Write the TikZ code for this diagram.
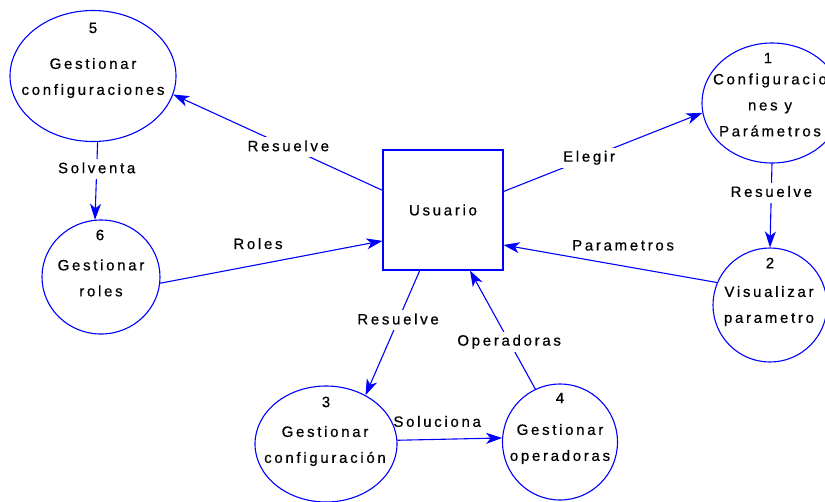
\documentclass[tikz,border=0pt]{standalone}
\usepackage{fontspec}
\setmainfont{Liberation Sans}[LetterSpace=18,FakeBold=0.6]
\usetikzlibrary{shapes.geometric,arrows.meta}

\begin{document}
\begin{tikzpicture}
	[x=1pt,y=-1pt,every node/.style={font=\fontsize{15}{26}\selectfont, text=black, align=center, inner sep=1pt}]
	\tikzstyle{proc} = [ellipse, draw=blue, line width=1.1pt, inner sep=0pt];
	\tikzstyle{flow} = [blue, line width=1.1pt, -{Stealth[length=16pt,width=11pt,inset=4.5pt]}];
	\tikzstyle{cut} = [fill=white, inner sep=3pt, text height=11pt, text depth=3pt];
	\tikzstyle{over} = [text height=11pt, text depth=3pt];
	
	\useasboundingbox (0,0) rectangle (825,501);
	\clip (0,0) rectangle (825,501);
	
	\node[draw=blue, line width=1.1pt, minimum size=120pt] (usr) at (443,210) {Usuario};
	
	\node[proc, minimum width=166pt, minimum height=131pt] (p5) at (93,76) {};
	\node (n5) at (93,28) {5};
	\node (t5) at (93,78) {Gestionar\\configuraciones};
	
	\node[proc, minimum width=140pt, minimum height=120pt] (p1) at (772,103) {};
	\node (n1) at (768,58) {1};
	\node (t1) at (770,105) {Configuracio\\nes y\\Parámetros};
	
	\node[proc, minimum width=114pt, minimum height=114pt] (p2) at (770,305) {};
	\node (n2) at (770,263) {2};
	\node (t2) at (769,306) {Visualizar\\parametro};
	
	\node[proc, minimum width=118pt, minimum height=114pt] (p6) at (101,277) {};
	\node (n6) at (100,235) {6};
	\node (t6) at (101,278) {Gestionar\\roles};
	
	\node[proc, minimum width=142pt, minimum height=116pt] (p3) at (326,444) {};
	\node (n3) at (326,402) {3};
	\node (t3) at (325,446) {Gestionar\\configuración};
	
	\node[proc, minimum width=115pt, minimum height=116pt] (p4) at (560,442) {};
	\node (n4) at (560,398) {4};
	\node (t4) at (560,444) {Gestionar\\operadoras};
	
	\draw[flow] (usr.162) -- node[cut, pos=0.45] (l1) {Resuelve} (p5.-13);
	\draw[flow] (p5.-86) -- node[cut, pos=0.35] (l2) {Solventa} (p6.96);
	\draw[flow] (p6.-6) -- node[over, pos=0.44, above=11pt] (l3) {Roles} (usr.-153);
	\draw[flow] (usr.17) -- node[cut, pos=0.43] (l4) {Elegir} (p1.188);
	\draw[flow] (p1.south) -- node[cut, pos=0.35] (l5) {Resuelve} (p2.north);
	\draw[flow] (p2.157) -- node[over, pos=0.44, above=11pt] (l6) {Parametros} (usr.-30);
	\draw[flow] (usr.-111) -- node[cut, pos=0.4] (l7) {Resuelve} (p3.51);
	\draw[flow] (p4.115) -- node[cut, pos=0.4] (l8) {Operadoras} (usr.-66);
	\draw[flow] (p3.3) -- node[over, pos=0.38, above=8pt] (l9) {Soluciona} (p4.176);
\end{tikzpicture}
\end{document}
